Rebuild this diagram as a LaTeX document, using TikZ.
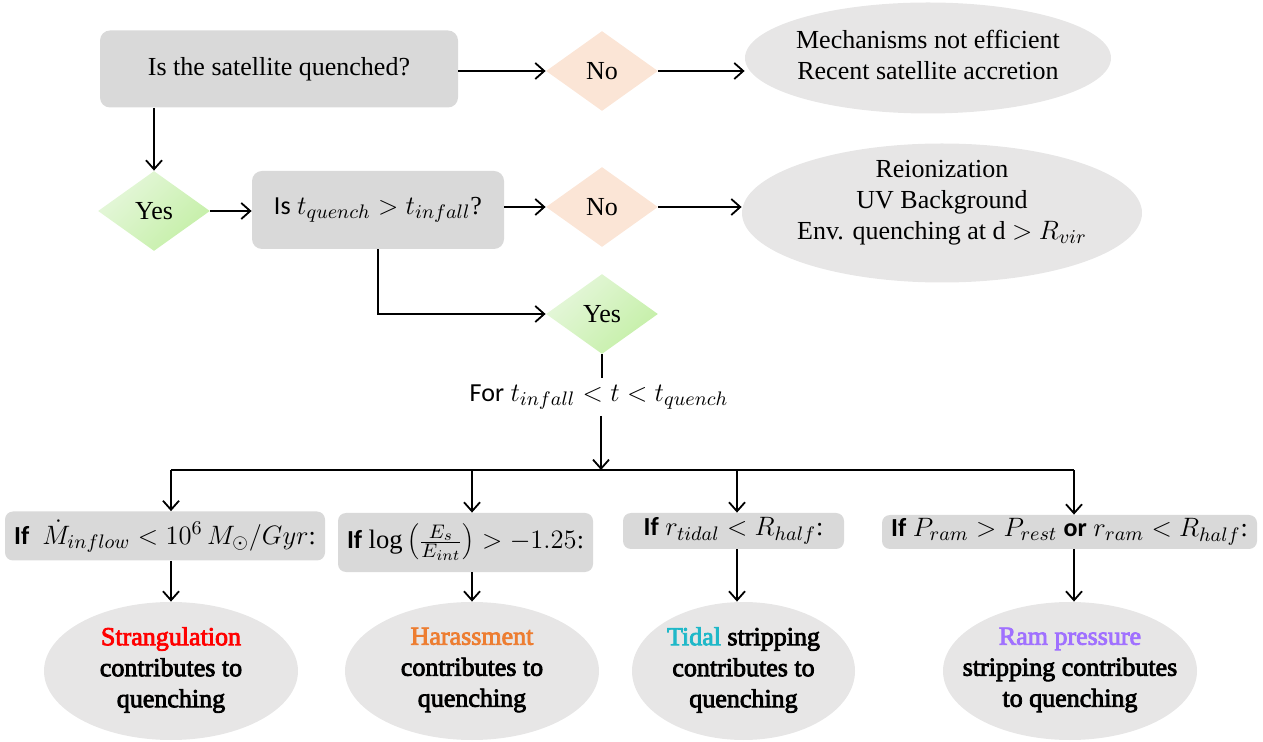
\RequirePackage{fix-cm}
\documentclass[tikz,border=0pt]{standalone}
\usepackage{fontspec}
\setmainfont{Liberation Serif}
\newfontfamily\calfont{Carlito}
\newcommand\strokebold[1]{\special{pdf:literal direct 2 Tr 0.4 w}#1\special{pdf:literal direct 0 Tr}}
\DeclareMathSizes{13}{13.3}{9.8}{7.5}
\usetikzlibrary{shapes.geometric,arrows.meta}
\definecolor{boxgray}{HTML}{D9D9D9}
\definecolor{ellgray}{HTML}{E7E6E6}
\definecolor{nofill}{HTML}{FBE5D6}
\definecolor{yesA}{HTML}{E6F7DC}
\definecolor{yesB}{HTML}{C4EFA6}
\definecolor{harass}{HTML}{ED7D31}
\definecolor{tidal}{HTML}{1FB8C8}
\definecolor{rampurple}{HTML}{A070FF}
\begin{document}
\begin{tikzpicture}[x=0.5pt,y=-0.5pt,
  ln/.style={line width=0.9pt},
  arr/.style={ln,-{Straight Barb[length=4.5pt,width=8pt]}},
  txt/.style={font=\fontsize{13}{15.5}\selectfont, align=center, inner sep=1pt},
  gbox/.style={rectangle, rounded corners=5pt, fill=boxgray, inner sep=0pt, txt},
  nodia/.style={diamond, fill=nofill, minimum width=56pt, minimum height=40pt, inner sep=0pt, txt},
  yesdia/.style={diamond, top color=yesA, bottom color=yesB, shading angle=45, minimum width=56pt, minimum height=40pt, inner sep=0pt, txt},
  ellshape/.style={ellipse, fill=ellgray, inner sep=0pt},
  btxt/.style={txt},
  cond/.style={gbox, rounded corners=4pt}
]
\useasboundingbox (0,0) rectangle (1263,742);

% bottom ellipses (typeset first)
\node[ellshape, minimum width=127pt, minimum height=69pt] (r1) at (171,671) {};
\node[btxt] (r1t) at (171,670) {\strokebold{\textcolor{red}{Strangulation}}\\\strokebold{contributes to}\\\strokebold{quenching}};
\node[ellshape, minimum width=127pt, minimum height=69pt] (r2) at (472,671) {};
\node[btxt] (r2t) at (472,670) {\strokebold{\textcolor{harass}{Harassment}}\\\strokebold{contributes to}\\\strokebold{quenching}};
\node[ellshape, minimum width=111.5pt, minimum height=69pt] (r3) at (743.5,671) {};
\node[btxt] (r3t) at (743.5,670) {\strokebold{\textcolor{tidal}{Tidal} stripping}\\\strokebold{contributes to}\\\strokebold{quenching}};
\node[ellshape, minimum width=127pt, minimum height=69pt] (r4) at (1070,671) {};
\node[btxt] (r4t) at (1070,670) {\strokebold{\textcolor{rampurple}{Ram pressure}}\\\strokebold{stripping contributes}\\\strokebold{to quenching}};

% top row
\node[gbox, minimum width=179pt, minimum height=38.5pt] (q1) at (279,69) {Is the satellite quenched?};
\node[nodia] (no1) at (602,71) {No};
\node[ellshape, minimum width=183pt, minimum height=55.5pt] (e1) at (928,58) {};
\node[txt] (e1t) at (928,55) {Mechanisms not efficient\\Recent satellite accretion};

% second row
\node[yesdia] (yes1) at (154,211) {Yes};
\node[gbox, minimum width=126pt, minimum height=39pt] (q2) at (378,210) {{\calfont Is} $t_{quench} > t_{infall}$?};
\node[nodia] (no2) at (602,207) {No};
\node[ellshape, minimum width=200pt, minimum height=69.5pt] (e2) at (942,213) {};
\node[txt] (e2t) at (942,203) {Reionization\\UV Background\\Env. quenching at d $>$ $R_{vir}$};

% third row
\node[yesdia] (yes2) at (602,314) {Yes};
\node[txt, inner sep=3pt] (lab) at (599,397) {{\calfont For} $t_{infall} < t < t_{quench}$};

% branch coordinates
\coordinate (j) at (601,470);
\coordinate (b1) at (171,470);
\coordinate (b2) at (472,470);
\coordinate (b3) at (737,470);
\coordinate (b4) at (1074,470);

% condition boxes
\node[cond, minimum width=160pt, minimum height=24.5pt] (c1) at (165,536) {{\calfont\bfseries If}\ \ $\dot{M}_{inflow} < 10^6\,M_{\odot}/Gyr$:};
\node[cond, minimum width=127.5pt, minimum height=29.5pt] (c2) at (465.5,542.5) {{\calfont\bfseries If} $\log\left(\frac{E_s}{E_{int}}\right) > -1.25$:};
\node[cond, minimum width=110.5pt, minimum height=18pt] (c3) at (733.5,531) {{\calfont\bfseries If} $r_{tidal} < R_{half}$:};
\node[cond, minimum width=187.5pt, minimum height=17pt] (c4) at (1069.5,532) {{\calfont\bfseries If} $P_{ram} > P_{rest}$ {\calfont\bfseries or} $r_{ram} < R_{half}$:};

% connectors
\draw[arr] (q1.east |- no1.west) -- (no1.west);
\draw[arr] (no1.east) -- (no1.east -| e1.west);
\draw[arr] (yes1.north |- q1.south) -- (yes1.north);
\draw[arr] (yes1.east) -- (yes1.east -| q2.west);
\draw[arr] (q2.east |- no2.west) -- (no2.west);
\draw[arr] (no2.east) -- (no2.east -| e2.west);
\draw[arr] (q2.south) |- (yes2.west);
\draw[ln] (yes2.south) -- (yes2.south |- lab.north);
\draw[arr] (lab.south -| j) -- (j);
\draw[ln] (b1) -- (b4);
\draw[arr] (b1) -- (b1 |- c1.north);
\draw[arr] (b2) -- (b2 |- c2.north);
\draw[arr] (b3) -- (b3 |- c3.north);
\draw[arr] (b4) -- (b4 |- c4.north);
\draw[arr] (b1 |- c1.south) -- (b1 |- r1.north);
\draw[arr] (b2 |- c2.south) -- (b2 |- r2.north);
\draw[arr] (b3 |- c3.south) -- (b3 |- r3.north);
\draw[arr] (b4 |- c4.south) -- (b4 |- r4.north);
\end{tikzpicture}
\end{document}
